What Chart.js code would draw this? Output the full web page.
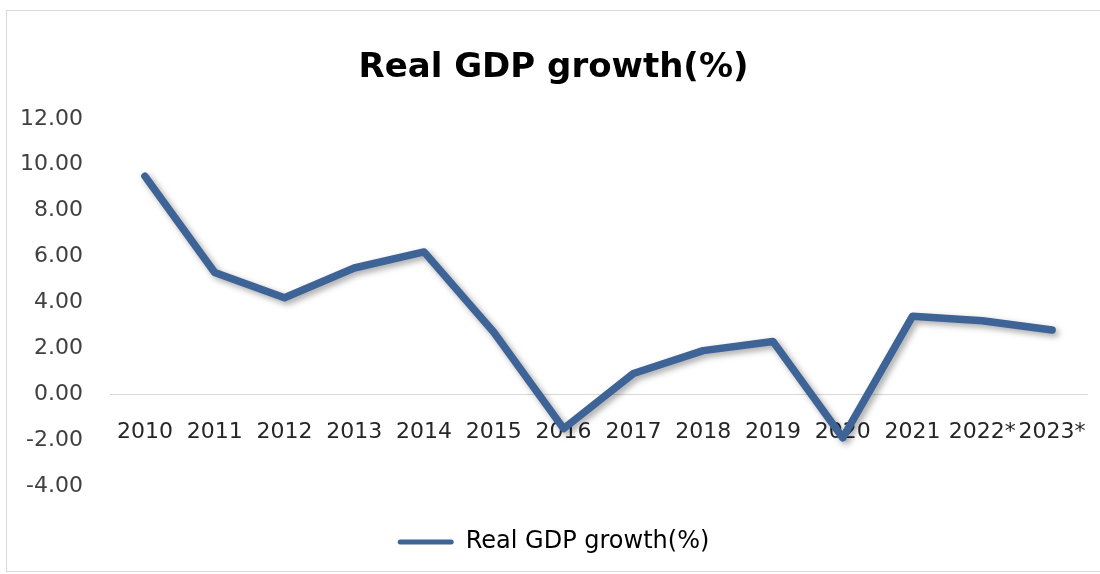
<!DOCTYPE html>
<html lang="en">
<head>
  <meta charset="UTF-8">
  <title>Real GDP growth(%)</title>
  <style>
    * { margin: 0; padding: 0; box-sizing: border-box; }
    body { width: 1100px; height: 574px; background: #fff; overflow: hidden; position: relative; }
    /* thin frame around the chart */
    .frame {
      position: absolute;
      left: 6px; top: 10px; right: -4px; bottom: 2px;
      border: 1px solid #d9d9d9;
    }
    .chart-wrap { position: absolute; left: 0; top: 0; width: 1100px; height: 574px; }
  </style>
  <script src="https://cdn.jsdelivr.net/npm/chart.js"></script>
</head>
<body>
  <div class="frame"></div>
  <div class="chart-wrap"><canvas id="gdpChart"></canvas></div>

  <script>
    // Years and growth rates
    const years = ['2010', '2011', '2012', '2013', '2014', '2015', '2016', '2017', '2018', '2019', '2020', '2021', '2022*', '2023*'];
    const growth = [9.5, 5.3, 4.2, 5.5, 6.2, 2.7, -1.5, 0.9, 1.9, 2.3, -1.9, 3.4, 3.2, 2.8];

    // Y axis range
    const yMin = -4;
    const yMax = 12;
    const yStep = 2;

    const lineColor = '#3d6397';
    const fontFamily = '"DejaVu Sans", sans-serif';

    // soft drop shadow under the line
    const lineShadow = {
      id: 'lineShadow',
      beforeDatasetsDraw(chart) {
        const ctx = chart.ctx;
        ctx.save();
        ctx.shadowColor = 'rgba(0, 0, 0, 0.35)';
        ctx.shadowBlur = 6;
        ctx.shadowOffsetX = 3;
        ctx.shadowOffsetY = 3;
      },
      afterDatasetsDraw(chart) {
        chart.ctx.restore();
      }
    };

    new Chart(document.getElementById('gdpChart'), {
      type: 'line',
      data: {
        labels: years,
        datasets: [{
          label: 'Real GDP growth(%)',
          data: growth,
          borderColor: lineColor,
          backgroundColor: lineColor,
          borderWidth: 7.5,
          borderCapStyle: 'round',
          borderJoinStyle: 'round',
          pointRadius: 0,
          pointHoverRadius: 0,
          tension: 0
        }]
      },
      options: {
        responsive: true,
        maintainAspectRatio: false,
        animation: false,
        layout: { padding: { left: 20, right: 13, top: 0, bottom: 10 } },
        plugins: {
          title: {
            display: true,
            text: 'Real GDP growth(%)',
            color: '#000',
            font: { family: fontFamily, size: 34, weight: 'bold' },
            padding: { top: 48, bottom: 30 }
          },
          legend: {
            position: 'bottom',
            title: { display: true, text: '', font: { size: 10 }, padding: { top: 14, bottom: 8 } },
            labels: {
              color: '#000',
              font: { family: fontFamily, size: 24 },
              boxWidth: 56,
              boxHeight: 5,
              generateLabels(chart) {
                return Chart.defaults.plugins.legend.labels.generateLabels(chart).map(item => ({
                  ...item,
                  fillStyle: lineColor,
                  lineWidth: 0,
                  borderRadius: 2.5
                }));
              }
            }
          },
          tooltip: { enabled: false }
        },
        scales: {
          x: {
            position: { y: 0 },
            offset: true,
            grid: { display: false, drawTicks: false },
            border: { display: true, color: '#d9d9d9', width: 1 },
            ticks: {
              color: '#262626',
              font: { family: fontFamily, size: 22 },
              padding: 25,
              maxRotation: 0,
              autoSkip: false
            },
            afterFit(scale) {
              scale.paddingLeft = 0;
              scale.paddingRight = 0;
            }
          },
          y: {
            min: yMin,
            max: yMax,
            grid: { display: false, drawTicks: false },
            border: { display: false },
            ticks: {
              stepSize: yStep,
              color: '#404040',
              font: { family: fontFamily, size: 22 },
              padding: 27,
              callback: v => v.toFixed(2)
            },
            afterFit(scale) {
              scale.width = 90;
            }
          }
        }
      },
      plugins: [lineShadow]
    });
  </script>
</body>
</html>
